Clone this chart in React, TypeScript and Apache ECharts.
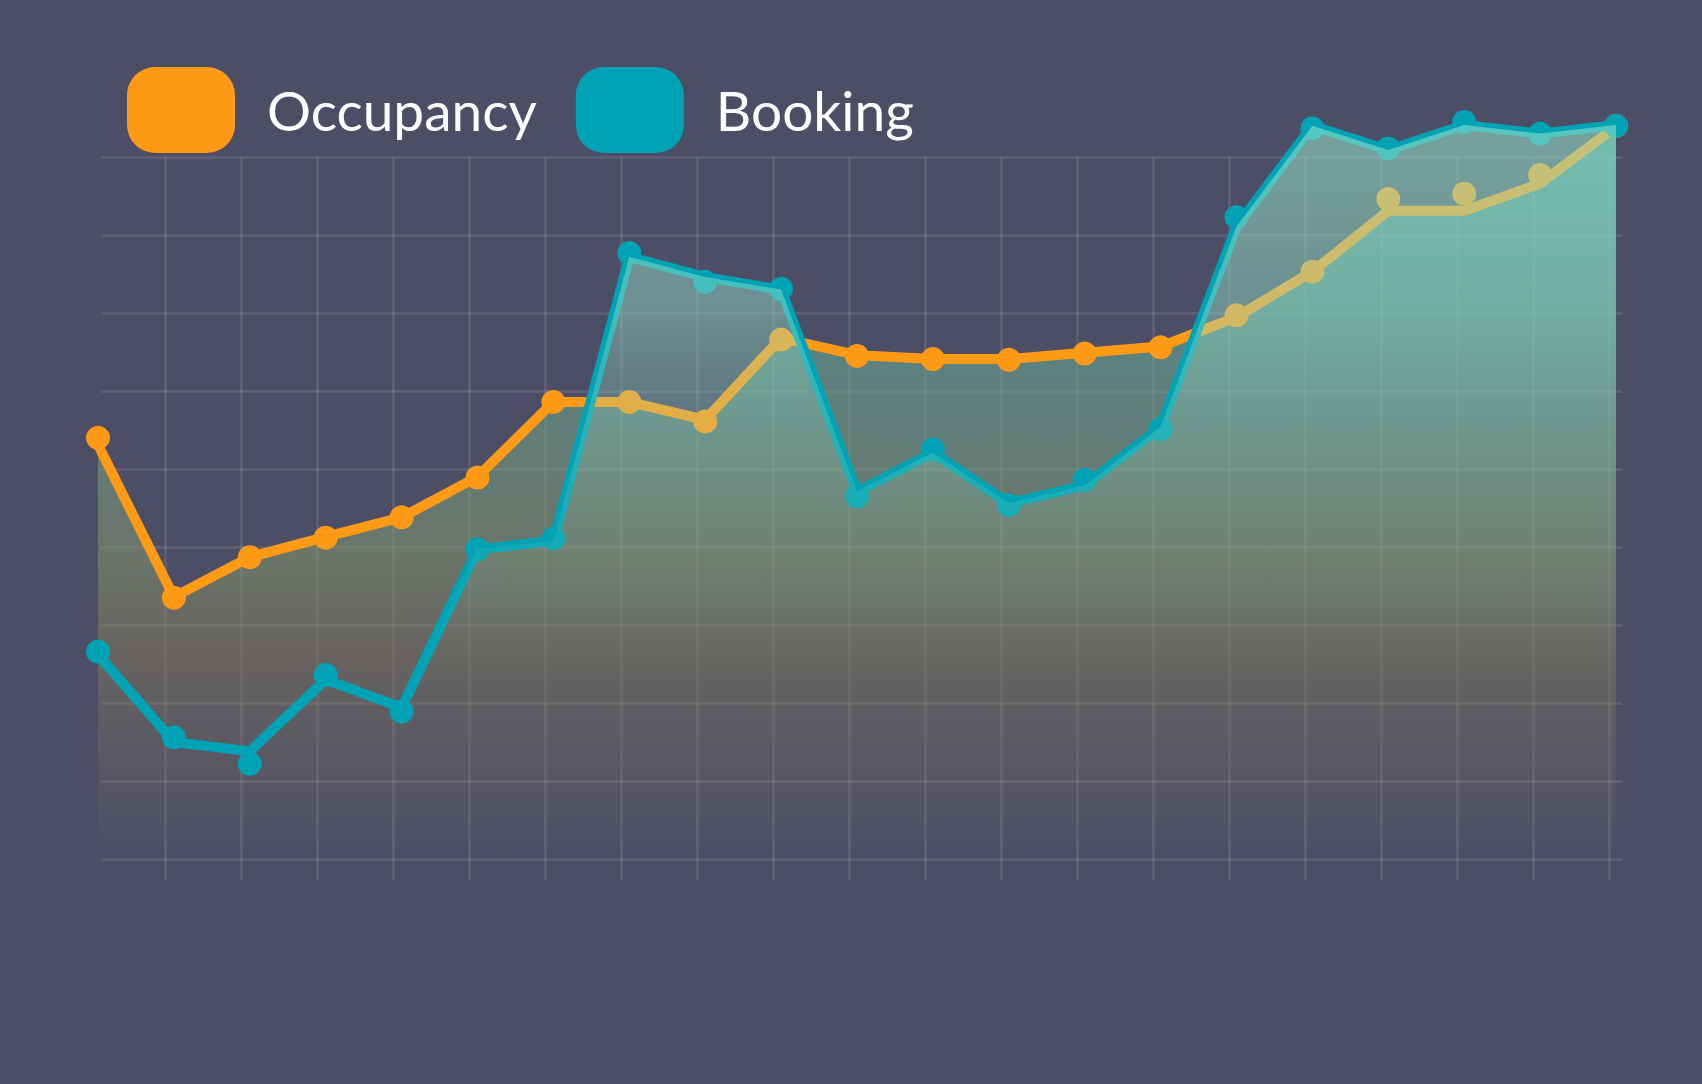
import React, { useEffect, useRef } from "react";
import * as echarts from "echarts";

const categories = ["1", "2", "3", "4", "5", "6", "7", "8", "9", "10", "11", "12", "13", "14", "15", "16", "17", "18", "19", "20", "21"];

const occupancyLine = [53.1, 33.6, 38.7, 41.3, 43.8, 49.0, 58.6, 58.6, 56.3, 66.8, 64.6, 64.1, 64.1, 64.9, 65.7, 69.5, 75.3, 83.1, 83.1, 86.6, 93.9];
const occupancyDots = [54.0, 33.5, 38.7, 41.2, 43.8, 48.9, 58.6, 58.6, 56.1, 66.6, 64.5, 64.1, 64.0, 64.8, 65.6, 69.7, 75.3, 84.6, 85.3, 87.7, 94.0];
const bookingLine = [26.2, 15.0, 13.8, 23.0, 19.4, 39.7, 40.8, 77.2, 74.6, 73.0, 47.1, 52.1, 45.6, 47.9, 55.4, 81.1, 94.0, 90.9, 94.1, 93.0, 94.1];
const bookingDots = [26.6, 15.6, 12.2, 23.6, 18.9, 39.7, 41.1, 77.7, 74.0, 73.1, 46.5, 52.5, 45.4, 48.6, 55.1, 82.3, 93.7, 91.1, 94.5, 93.0, 94.0];

const legendNames = ["Occupancy", "Booking"];

const ORANGE = "#ff9a16";
const TEAL = "#00a3b5";
const BG = "#4c4e66";
const GRID_LINE = "rgba(255,255,255,0.09)";

export default function App() {
  const ref = useRef<HTMLDivElement>(null);

  useEffect(() => {
    const chart = echarts.init(ref.current!, null, { renderer: "svg" });

    const occGrad = new echarts.graphic.LinearGradient(0, 0, 0, 1, [
      { offset: 0, color: "rgba(60,210,185,0.5)" },
      { offset: 0.33, color: "rgba(110,180,150,0.5)" },
      { offset: 0.59, color: "rgba(138,155,106,0.5)" },
      { offset: 0.72, color: "rgba(136,125,88,0.45)" },
      { offset: 1, color: "rgba(136,125,88,0)" },
    ]);
    const bookGrad = new echarts.graphic.LinearGradient(0, 0, 0, 1, [
      { offset: 0, color: "rgba(150,225,200,0.57)" },
      { offset: 0.24, color: "rgba(150,225,200,0.45)" },
      { offset: 0.36, color: "rgba(150,225,200,0.3)" },
      { offset: 0.58, color: "rgba(150,225,200,0.11)" },
      { offset: 0.78, color: "rgba(150,225,200,0)" },
    ]);

    const hiddenParts = {
      axisLine: { show: false },
      axisTick: { show: false },
      axisLabel: { show: false },
    };

    chart.setOption({
      animation: false,
      backgroundColor: BG,
      legend: {
        left: 127,
        top: 67,
        padding: 0,
        itemWidth: 108,
        itemHeight: 86,
        itemGap: 39,
        selectedMode: false,
        icon: "path://M28,0H80A28,28 0 0 1 108,28V58A28,28 0 0 1 80,86H28A28,28 0 0 1 0,58V28A28,28 0 0 1 28,0Z",
        data: [
          { name: legendNames[0], itemStyle: { color: ORANGE, borderWidth: 0 } },
          { name: legendNames[1], itemStyle: { color: TEAL, borderWidth: 0 } },
        ],
        textStyle: {
          color: "#ffffff",
          fontFamily: "Lato",
          fontWeight: "normal",
          fontSize: 55,
          padding: [0, 0, 0, 27],
        },
      },
      grid: [
        { left: 98, right: 86, top: 79, bottom: 225 },
        { left: 101, right: 80, top: 157, bottom: 225 },
        { left: 165, right: 93, top: 157, bottom: 204 },
      ],
      xAxis: [
        { type: "category", gridIndex: 0, data: categories, boundaryGap: false, show: false },
        { type: "value", gridIndex: 1, min: 0, max: 1, show: false },
        {
          type: "value",
          gridIndex: 2,
          min: 0,
          max: 19,
          interval: 1,
          ...hiddenParts,
          splitLine: { show: true, lineStyle: { color: GRID_LINE, width: 3 } },
        },
      ],
      yAxis: [
        { type: "value", gridIndex: 0, min: 0, max: 100, show: false },
        {
          type: "value",
          gridIndex: 1,
          min: 0,
          max: 9,
          interval: 1,
          ...hiddenParts,
          splitLine: { show: true, lineStyle: { color: GRID_LINE, width: 3 } },
        },
        { type: "value", gridIndex: 2, min: 0, max: 1, show: false },
      ],
      series: [
        {
          name: legendNames[0],
          type: "line",
          data: occupancyLine,
          symbol: "none",
          lineStyle: { width: 0, opacity: 0 },
          itemStyle: { color: ORANGE },
          areaStyle: { color: occGrad, opacity: 1 },
          z: 2,
          silent: true,
        },
        {
          name: legendNames[0],
          type: "line",
          data: occupancyLine,
          symbol: "none",
          lineStyle: { width: 10, color: ORANGE, join: "miter" },
          itemStyle: { color: ORANGE },
          z: 3,
        },
        {
          name: legendNames[0],
          type: "scatter",
          data: occupancyDots,
          symbolSize: 24,
          itemStyle: { color: ORANGE, opacity: 1 },
          z: 3,
        },
        {
          name: legendNames[1],
          type: "line",
          data: bookingLine,
          symbol: "none",
          lineStyle: { width: 10, color: TEAL, join: "miter" },
          itemStyle: { color: TEAL },
          z: 4,
        },
        {
          name: legendNames[1],
          type: "scatter",
          data: bookingDots,
          symbolSize: 24,
          itemStyle: { color: TEAL, opacity: 1 },
          z: 4,
        },
        {
          name: legendNames[1],
          type: "line",
          data: bookingLine,
          symbol: "none",
          lineStyle: { width: 0, opacity: 0 },
          itemStyle: { color: TEAL },
          areaStyle: { color: bookGrad, opacity: 1 },
          z: 5,
          silent: true,
        },
      ],
    });

    return () => chart.dispose();
  }, []);

  return (
    <div
      ref={ref}
      style={{ position: "fixed", left: 0, top: 0, width: 1702, height: 1084, background: BG }}
    />
  );
}
